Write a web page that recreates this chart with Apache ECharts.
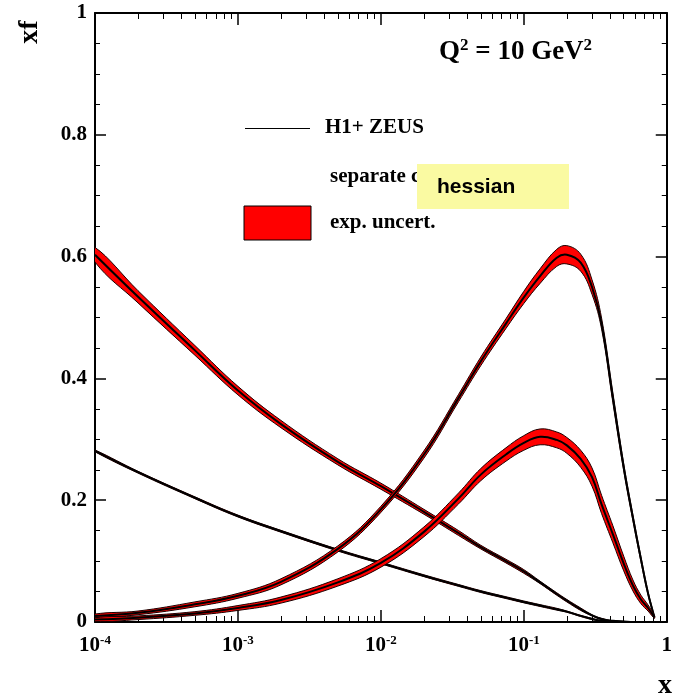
<!DOCTYPE html>
<html>
<head>
<meta charset="UTF-8">
<title>xf at Q2 = 10 GeV2</title>
<script src="https://cdn.jsdelivr.net/npm/echarts@6/dist/echarts.min.js"></script>
<style>
  html, body { margin: 0; padding: 0; background: #fff; }
  #chart { width: 675px; height: 697px; }
</style>
</head>
<body>
<div id="chart"></div>
<script>
// x grid shared by all curves
var xs = [1e-4, 2e-4, 5e-4, 1e-3, 2e-3, 5e-3, 0.01, 0.02, 0.035, 0.05, 0.075, 0.1, 0.13, 0.17, 0.2, 0.25, 0.3, 0.35, 0.42, 0.5, 0.58, 0.66, 0.74, 0.82];

// central values and half-widths of the bands
var seaVals = [0.603, 0.534, 0.446, 0.380, 0.325, 0.263, 0.223, 0.181, 0.146, 0.123, 0.100, 0.083, 0.065, 0.046, 0.035, 0.021, 0.011, 0.005, 0.002, 0.001, 0, 0, 0, 0];
var seaErr  = [0.012, 0.010, 0.008, 0.007, 0.006, 0.005, 0.005, 0.004, 0.004, 0.003, 0.003, 0.003, 0.002, 0.002, 0.002, 0.002, 0.001, 0.001, 0, 0, 0, 0, 0, 0];

var lowVals = [0.281, 0.246, 0.204, 0.174, 0.149, 0.118, 0.097, 0.076, 0.060, 0.050, 0.040, 0.033, 0.027, 0.021, 0.017, 0.010, 0.005, 0.002, 0.001, 0, 0, 0, 0, 0];
var lowErr  = [0.0015, 0.0015, 0.0015, 0.0015, 0.0015, 0.0015, 0.0015, 0.0015, 0.0015, 0.0015, 0.0015, 0.0015, 0.0015, 0.0015, 0.001, 0.001, 0.001, 0, 0, 0, 0, 0, 0, 0];

var uvVals = [0.010, 0.015, 0.029, 0.043, 0.066, 0.120, 0.185, 0.275, 0.368, 0.428, 0.490, 0.533, 0.568, 0.598, 0.603, 0.590, 0.550, 0.490, 0.368, 0.254, 0.171, 0.103, 0.047, 0.008];
var uvErr  = [0.003, 0.003, 0.004, 0.004, 0.005, 0.005, 0.005, 0.006, 0.006, 0.007, 0.008, 0.010, 0.012, 0.014, 0.015, 0.014, 0.012, 0.009, 0.008, 0.006, 0.005, 0.004, 0.003, 0.001];

var dvVals = [0.004, 0.007, 0.014, 0.023, 0.036, 0.065, 0.097, 0.148, 0.203, 0.242, 0.275, 0.294, 0.304, 0.299, 0.290, 0.268, 0.238, 0.193, 0.144, 0.096, 0.060, 0.037, 0.023, 0.008];
var dvErr  = [0.003, 0.003, 0.003, 0.004, 0.005, 0.006, 0.007, 0.008, 0.009, 0.010, 0.011, 0.012, 0.013, 0.013, 0.013, 0.014, 0.015, 0.015, 0.014, 0.012, 0.009, 0.007, 0.005, 0.002];

var xMinor = [];
[1e-4, 1e-3, 1e-2, 1e-1].forEach(function (d) {
    for (var k = 2; k <= 9; k++) xMinor.push(+(d * k).toPrecision(3));
});

var SERIF = '"Liberation Serif", "DejaVu Serif", serif';
var SMOOTH = 0.4;

// one custom series per curve: red band with dark edges plus the central line
function bandSeries(vals, errs) {
    var rows = xs.map(function (x, i) { return [x, vals[i] - errs[i], vals[i] + errs[i], vals[i]]; });
    return {
        type: 'custom',
        coordinateSystem: 'cartesian2d',
        clip: true,
        encode: { x: 0, y: [1, 2, 3] },
        data: rows,
        renderItem: function (params, api) {
            if (params.dataIndex !== 0) return null;
            var up = [], lo = [], mid = [];
            rows.forEach(function (r) {
                up.push(api.coord([r[0], r[2]]));
                lo.push(api.coord([r[0], r[1]]));
                mid.push(api.coord([r[0], r[3]]));
            });
            var outline = up.concat(lo.slice().reverse());
            return {
                type: 'group',
                children: [
                    { type: 'polygon', shape: { points: outline, smooth: SMOOTH },
                      style: { fill: '#ff0000', stroke: '#1a0000', lineWidth: 1 } },
                    { type: 'polyline', shape: { points: mid, smooth: SMOOTH },
                      style: { fill: null, stroke: '#000', lineWidth: 2 } }
                ]
            };
        }
    };
}

var series = [
    bandSeries(seaVals, seaErr),
    bandSeries(lowVals, lowErr),
    bandSeries(uvVals, uvErr),
    bandSeries(dvVals, dvErr)
];

var axLine = { lineStyle: { color: '#000', width: 2 } };

function xAx(pos, labels, minor) {
    return {
        type: 'log', logBase: 10, min: 1e-4, max: 1, position: pos,
        axisLine: minor ? { show: false } : axLine,
        axisTick: minor
            ? { inside: true, length: 6, lineStyle: { color: '#000', width: 1 }, customValues: xMinor }
            : { inside: true, length: 12, lineStyle: { color: '#000', width: 1.5 } },
        axisLabel: labels ? {
            margin: 12,
            formatter: function (v) {
                if (v >= 1) return '{n|1}';
                return '{n|10}{s|' + Math.round(Math.log10(v)) + '}';
            },
            rich: {
                n: { fontFamily: SERIF, fontWeight: 'bold', fontSize: 21, color: '#000', lineHeight: 24 },
                s: { fontFamily: SERIF, fontWeight: 'bold', fontSize: 13, color: '#000', verticalAlign: 'top', lineHeight: 24 }
            }
        } : { show: false },
        splitLine: { show: false }
    };
}

function yAx(pos, labels) {
    return {
        type: 'value', min: 0, max: 1, interval: 0.2, position: pos,
        axisLine: axLine,
        axisTick: { inside: true, length: 11, lineStyle: { color: '#000', width: 1.5 } },
        minorTick: { show: true, splitNumber: 4, length: 5, lineStyle: { color: '#000', width: 1 } },
        axisLabel: labels ? {
            margin: 8, color: '#000', fontFamily: SERIF, fontWeight: 'bold', fontSize: 21,
            formatter: function (v) { return (v === 0 || v === 1) ? String(v) : v.toFixed(1); }
        } : { show: false },
        splitLine: { show: false }
    };
}

var chart = echarts.init(document.getElementById('chart'));
chart.setOption({
    animation: false,
    backgroundColor: '#fff',
    grid: { left: 95, right: 7, top: 13, bottom: 75, containLabel: false },
    xAxis: [xAx('bottom', true, false), xAx('bottom', false, true), xAx('top', false, false), xAx('top', false, true)],
    yAxis: [yAx('left', true), yAx('right', false)],
    series: series,
    graphic: [
        { type: 'text', x: 30, y: 32, rotation: Math.PI / 2,
          style: { text: 'xf', font: 'bold 28px ' + SERIF, fill: '#000', align: 'center', verticalAlign: 'middle' } },
        { type: 'text', x: 665, y: 686,
          style: { text: 'x', font: 'bold 28px ' + SERIF, fill: '#000', align: 'center', verticalAlign: 'middle' } },
        { type: 'text', x: 439, y: 52,
          style: { text: '{a|Q}{b|2}{a| = 10 GeV}{b|2}', verticalAlign: 'middle',
                   rich: { a: { font: 'bold 27px ' + SERIF, fill: '#000', lineHeight: 30 },
                           b: { font: 'bold 17px ' + SERIF, fill: '#000', verticalAlign: 'top', lineHeight: 30 } } } },
        { type: 'line', shape: { x1: 245, y1: 128.5, x2: 310, y2: 128.5 }, style: { stroke: '#000', lineWidth: 1.2 } },
        { type: 'text', x: 325, y: 128,
          style: { text: 'H1+ ZEUS', font: 'bold 21px ' + SERIF, fill: '#000', verticalAlign: 'middle' } },
        { type: 'text', x: 330, y: 177,
          style: { text: 'separate c', font: 'bold 21px ' + SERIF, fill: '#000', verticalAlign: 'middle' } },
        { type: 'rect', shape: { x: 417, y: 164, width: 152, height: 45 }, style: { fill: '#fafaa2' }, z: 10 },
        { type: 'text', x: 437, y: 187, z: 11,
          style: { text: 'hessian', font: 'bold 21px "Liberation Sans", Arial, sans-serif', fill: '#000', verticalAlign: 'middle' } },
        { type: 'rect', shape: { x: 244, y: 206, width: 67, height: 34 }, style: { fill: '#ff0000', stroke: '#000', lineWidth: 1 } },
        { type: 'text', x: 330, y: 223,
          style: { text: 'exp. uncert.', font: 'bold 21px ' + SERIF, fill: '#000', verticalAlign: 'middle' } }
    ]
});
</script>
</body>
</html>
